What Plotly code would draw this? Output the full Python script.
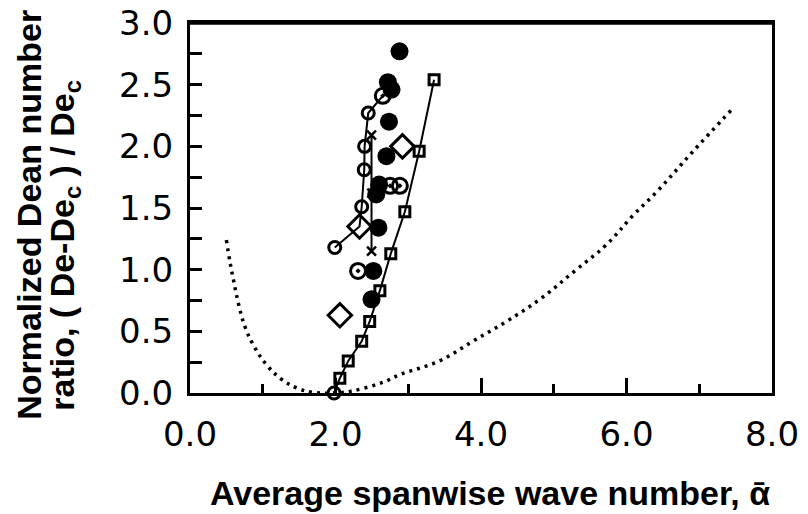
import plotly.graph_objects as go

# ---- data ----
# open squares joined by a line (first point is the open circle at the origin)
sq_x = [1.98, 2.06, 2.175, 2.36, 2.47, 2.61, 2.76, 2.953, 3.15, 3.355]
sq_y = [0.0, 0.12, 0.26, 0.42, 0.58, 0.83, 1.13, 1.47, 1.96, 2.54]
sq_sym = ["circle-open"] + ["square-open"] * 9

# open circles joined by a line (includes one diamond and a dotted circle at the end)
oc_x = [1.99, 2.33, 2.36, 2.395, 2.40, 2.45, 2.65]
oc_y = [1.18, 1.35, 1.51, 1.81, 2.00, 2.27, 2.41]
oc_sym = ["circle-open", "diamond-open", "circle-open", "circle-open",
          "circle-open", "circle-open", "circle-open-dot"]

# filled circles
fc_x = [2.88, 2.72, 2.77, 2.735, 2.70, 2.60, 2.56, 2.59, 2.52, 2.495]
fc_y = [2.77, 2.52, 2.46, 2.20, 1.92, 1.69, 1.61, 1.34, 0.99, 0.76]

# circles with a centre dot
cd_x = [2.75, 2.885, 2.31]
cd_y = [1.68, 1.68, 0.99]

# open diamonds
dm_x = [2.06, 2.92]
dm_y = [0.63, 2.00]

# crosses joined by a line
cr_x = [2.495, 2.50, 2.495]
cr_y = [2.09, 1.62, 1.15]

# dotted neutral-stability curve
nc_x = [0.50, 0.55, 0.60, 0.68, 0.76, 0.87, 1.05, 1.26, 1.47, 1.69, 1.97,
        2.2, 2.65, 2.89, 3.43, 3.89, 4.35, 4.81, 5.31, 5.72, 6.09, 6.43, 6.9, 7.45]
nc_y = [1.24, 1.06, 0.91, 0.69, 0.53, 0.39, 0.23, 0.11, 0.04, 0.005, 0.0,
        0.013, 0.086, 0.15, 0.26, 0.42, 0.58, 0.76, 1.0, 1.20, 1.44, 1.64, 1.95, 2.30]

x_ticks = [0, 2, 4, 6, 8]
x_labels = ["0.0", "2.0", "4.0", "6.0", "8.0"]
y_ticks = [0, 0.5, 1.0, 1.5, 2.0, 2.5, 3.0]
y_labels = ["0.0", "0.5", "1.0", "1.5", "2.0", "2.5", "3.0"]

K = "black"
SIZES = {"circle-open": 12, "square-open": 10, "diamond-open": 18,
         "circle-open-dot": 15, "circle": 18, "x-thin-open": 9}

fig = go.Figure()


def add_line(xs, ys, width=2):
    fig.add_trace(go.Scatter(x=xs, y=ys, mode="lines",
                             line=dict(color=K, width=width),
                             cliponaxis=False, hoverinfo="skip"))


def add_marks(xs, ys, symbol, lw=3):
    fig.add_trace(go.Scatter(x=xs, y=ys, mode="markers",
                             marker=dict(symbol=symbol, size=SIZES[symbol], color=K,
                                         line=dict(color=K, width=lw)),
                             cliponaxis=False))


def add_by_symbol(xs, ys, syms):
    for s in dict.fromkeys(syms):
        idx = [i for i, v in enumerate(syms) if v == s]
        add_marks([xs[i] for i in idx], [ys[i] for i in idx], s)


# dotted curve
fig.add_trace(go.Scatter(x=nc_x, y=nc_y, mode="lines",
                         line=dict(color=K, width=3.5, dash="3px,5px",
                                   shape="spline", smoothing=1.1),
                         cliponaxis=False, hoverinfo="skip"))

# connecting lines
add_line(cr_x, cr_y)
add_line(sq_x, sq_y)
add_line(oc_x, oc_y)

# markers
add_marks(cr_x, cr_y, "x-thin-open", lw=2.5)
add_by_symbol(sq_x, sq_y, sq_sym)
add_by_symbol(oc_x, oc_y, oc_sym)
add_marks(fc_x, fc_y, "circle", lw=0)
add_marks(cd_x, cd_y, "circle-open-dot")
add_marks(dm_x, dm_y, "diamond-open")

tick_font = dict(family="DejaVu Sans", size=34, color=K)
title_font = dict(family="Liberation Sans", size=34, color=K)
NB = "\u00a0"

fig.update_layout(
    width=808, height=514,
    margin=dict(l=190, r=36, t=23, b=121),
    paper_bgcolor="white", plot_bgcolor="white",
    showlegend=False,
    xaxis=dict(range=[0, 8], tickmode="array", tickvals=x_ticks, ticktext=x_labels,
               ticks="inside", ticklen=15, tickwidth=2.5, tickcolor=K,
               minor=dict(dtick=1, ticks="inside", ticklen=9, tickwidth=2.5, tickcolor=K),
               showline=True, linewidth=3, linecolor=K, mirror=True,
               showgrid=False, zeroline=False, tickfont=tick_font,
               ticklabelstandoff=9, automargin=False, ticklabeloverflow="allow"),
    yaxis=dict(range=[0, 3], tickmode="array", tickvals=y_ticks, ticktext=y_labels,
               ticks="inside", ticklen=12, tickwidth=2.5, tickcolor=K,
               minor=dict(dtick=0.25, ticks="inside", ticklen=12, tickwidth=2.5, tickcolor=K),
               showline=True, linewidth=3, linecolor=K, mirror=True,
               showgrid=False, zeroline=False, tickfont=tick_font,
               ticklabelstandoff=7, automargin=False, ticklabeloverflow="allow"),
    shapes=[dict(type="line", xref="paper", yref="paper", x0=0, y0=1, x1=1, y1=1,
                 line=dict(color=K, width=3.5), layer="above")],
    annotations=[
        dict(text="<b>Normalized Dean number</b>", xref="paper", yref="paper",
             x=-0.278, y=0.482, xanchor="center", yanchor="middle",
             textangle=-90, showarrow=False, font=title_font),
        dict(text=f"<b>ratio,{NB}({NB}De-De<sub>c</sub>{NB}){NB}/{NB}De<sub>c</sub></b>",
             xref="paper", yref="paper",
             x=-0.217, y=0.40, xanchor="center", yanchor="middle",
             textangle=-90, showarrow=False, font=title_font),
        dict(text="<b>Average spanwise wave number, ᾱ</b>", xref="paper", yref="paper",
             x=0.516, y=-0.27, xanchor="center", yanchor="middle",
             showarrow=False, font=title_font),
    ],
)

fig.write_html("out.html", config={"displayModeBar": False},
               post_script="document.body.style.margin='0';"
                           "document.body.style.overflow='hidden';")
